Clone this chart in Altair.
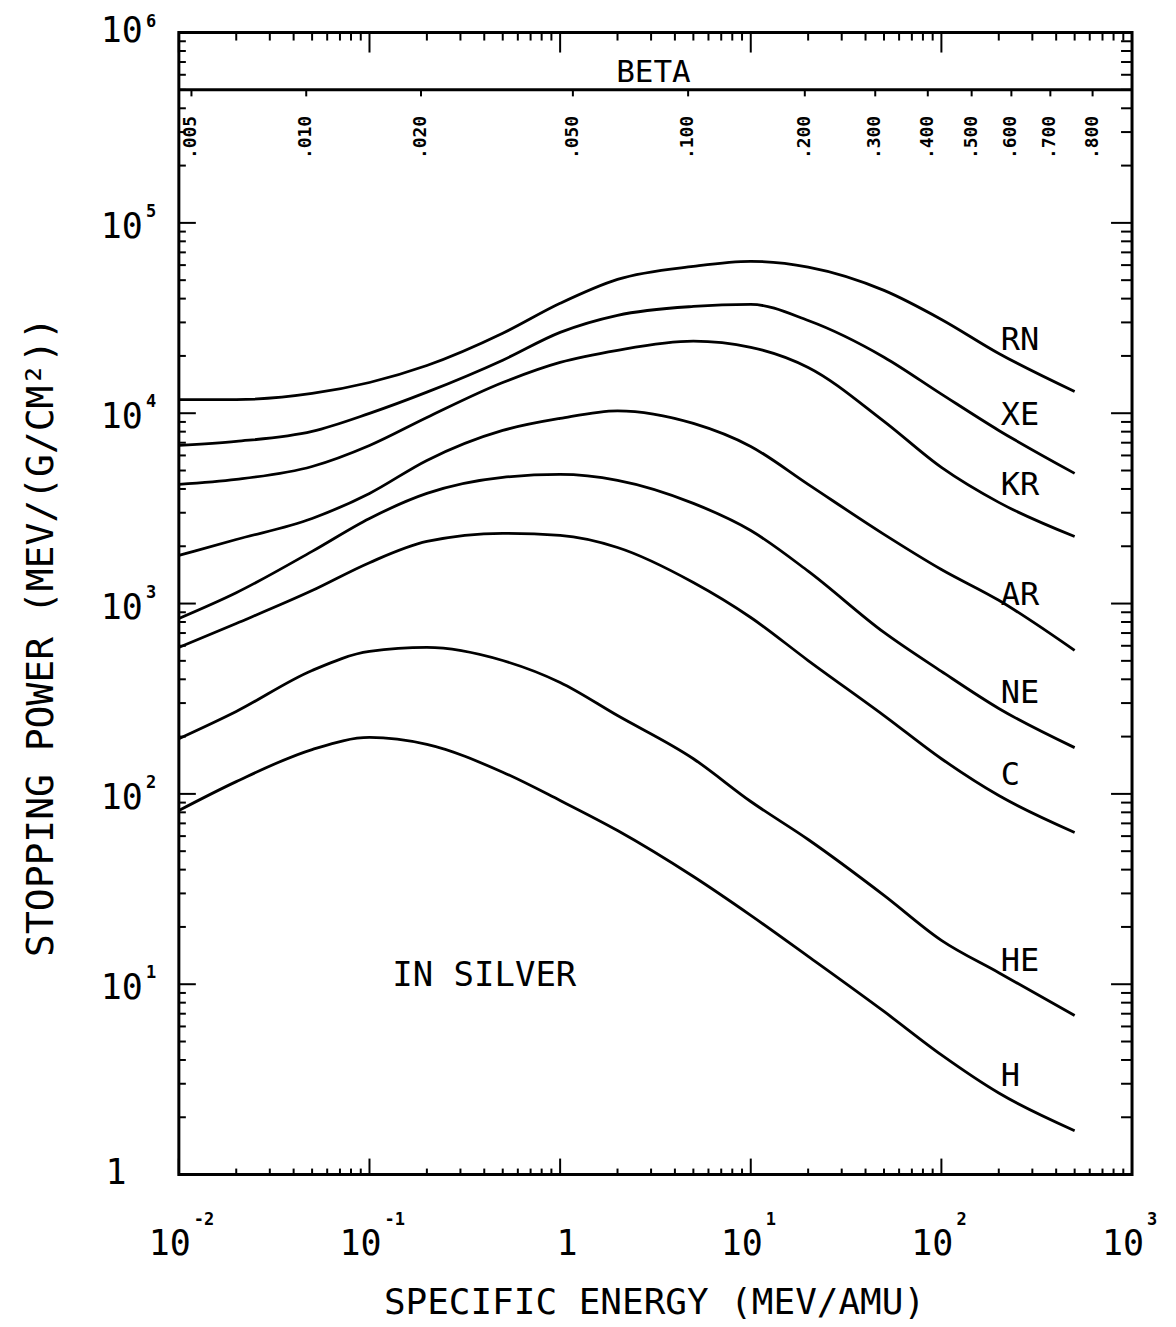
import math
import altair as alt
import pandas as pd

# ---------------- data ----------------
ENERGY = [0.01, 0.02, 0.05, 0.1, 0.2, 0.5, 1, 2, 5, 10, 20, 50, 100, 200, 500]  # MeV/amu

RN = [11800, 11800, 12700, 14500, 17800, 26300, 37800, 50500, 59100, 62800, 58600, 44200, 31100, 20600, 13000]
XE = [6770, 7110, 8020, 9980, 12900, 19000, 26600, 32700, 36400, 37300, 30700, 19700, 12600, 8120, 4830]
KR = [4230, 4490, 5250, 6770, 9500, 14500, 18500, 21400, 23900, 22200, 17400, 9060, 5190, 3400, 2250]
AR = [1790, 2170, 2800, 3790, 5650, 8120, 9390, 10300, 8840, 6690, 4230, 2310, 1510, 1040, 567]
NE = [835, 1140, 1880, 2800, 3790, 4600, 4770, 4440, 3360, 2420, 1480, 705, 440, 281, 175]
C_ = [588, 786, 1170, 1640, 2120, 2340, 2280, 1970, 1290, 845, 502, 258, 153, 98, 62.7]
HE = [195, 271, 445, 560, 588, 502, 385, 258, 153, 91.2, 57.6, 29.3, 17.0, 11.5, 6.85]
H_ = [81.8, 116, 171, 198, 182, 130, 92.3, 64.2, 36.8, 23.0, 14.0, 7.19, 4.25, 2.68, 1.70]

IONS = ["RN", "XE", "KR", "AR", "NE", "C", "HE", "H"]
SERIES = [RN, XE, KR, AR, NE, C_, HE, H_]

# curve labels (name, stopping power at label centre)
LABEL_ENERGY = 205
LABEL_VALUE = [24150, 9730, 4175, 1103, 337, 125, 13.3, 3.31]

# beta scale on top
BETA = [0.005, 0.010, 0.020, 0.050, 0.100, 0.200, 0.300, 0.400, 0.500, 0.600, 0.700, 0.800]
BETA_TEXT = [".005", ".010", ".020", ".050", ".100", ".200", ".300", ".400", ".500", ".600", ".700", ".800"]
AMU_MEV = 931.494

X_TICK_LABELS = [0.01, 0.1, 10, 100, 1000]
X_TICK_EXP = ["-2", "-1", "1", "2", "3"]
Y_TICK_LABELS = [10, 100, 1000, 1e4, 1e5]
Y_TICK_EXP = ["1", "2", "3", "4", "5"]

# ---------------- layout ----------------
W, H = 954, 1143
FONT = "DejaVu Sans Mono"
BAND_Y = 5.0e5
BAND_TICK_END = 4.62e5
LBL = 35     # tick label size
EXP = 17     # exponent size

xs = alt.Scale(type="log", domain=[0.01, 1000], nice=False)
ys = alt.Scale(type="log", domain=[1, 1e6], nice=False)


def beta_to_energy(b):
    return AMU_MEV * (1.0 / math.sqrt(1.0 - b * b) - 1.0)


rows = [{"ion": ion, "E": e, "S": s}
        for ion, vals in zip(IONS, SERIES) for e, s in zip(ENERGY, vals)]
df_lines = pd.DataFrame(rows)

lines = alt.Chart(df_lines).mark_line(color="black", strokeWidth=2.8, interpolate="monotone").encode(
    x=alt.X("E:Q", scale=xs, axis=None),
    y=alt.Y("S:Q", scale=ys, axis=None),
    detail="ion:N",
)

# ticks (all pointing inwards)
x_major = pd.DataFrame({"v": [10.0 ** k for k in range(-2, 4)]})
x_minor = pd.DataFrame({"v": [m * 10.0 ** k for k in range(-2, 3) for m in range(2, 10)]})
y_major = pd.DataFrame({"v": [10.0 ** k for k in range(0, 7)]})
y_minor = pd.DataFrame({"v": [m * 10.0 ** k for k in range(0, 6) for m in range(2, 10)]})


def xticks(d, y0, y1):
    return alt.Chart(d).mark_rule(color="black", strokeWidth=2).encode(
        x=alt.X("v:Q", scale=xs, axis=None), y=alt.value(y0), y2=alt.value(y1))


def yticks(d, x0, x1):
    return alt.Chart(d).mark_rule(color="black", strokeWidth=2).encode(
        y=alt.Y("v:Q", scale=ys, axis=None), x=alt.value(x0), x2=alt.value(x1))


tick_layers = [
    xticks(x_major, H, H - 16), xticks(x_minor, H, H - 6),
    xticks(x_major, 0, 20), xticks(x_minor, 0, 8),
    yticks(y_major, 0, 17), yticks(y_minor, 0, 7),
    yticks(y_major, W, W - 21), yticks(y_minor, W, W - 11),
]

band = alt.Chart(pd.DataFrame({"v": [BAND_Y]})).mark_rule(color="black", strokeWidth=3).encode(
    y=alt.Y("v:Q", scale=ys, axis=None), x=alt.value(0), x2=alt.value(W))

df_beta = pd.DataFrame({"E": [beta_to_energy(b) for b in BETA], "t": BETA_TEXT,
                        "y0": BAND_Y, "y1": BAND_TICK_END})
beta_ticks = alt.Chart(df_beta).mark_rule(color="black", strokeWidth=2).encode(
    x=alt.X("E:Q", scale=xs, axis=None),
    y=alt.Y("y0:Q", scale=ys, axis=None), y2="y1:Q")
beta_text = alt.Chart(df_beta).mark_text(font=FONT, fontSize=18, fontWeight="bold", angle=270,
                                         align="center", baseline="middle").encode(
    x=alt.X("E:Q", scale=xs, axis=None), y=alt.value(105), text="t:N")

beta_title = alt.Chart(pd.DataFrame({"t": ["BETA"]})).mark_text(
    font=FONT, fontSize=31, align="center", baseline="middle").encode(
    x=alt.value(475), y=alt.value(40), text="t:N")

# tick labels
df_xl = pd.DataFrame({"v": X_TICK_LABELS, "e": X_TICK_EXP})
x_base = alt.Chart(df_xl).mark_text(font=FONT, fontSize=LBL, align="right", baseline="middle", dx=12).encode(
    x=alt.X("v:Q", scale=xs, axis=None), y=alt.value(H + 70), text=alt.value("10"))
x_exp = alt.Chart(df_xl).mark_text(font=FONT, fontSize=EXP, fontWeight="bold", align="left",
                                   baseline="middle", dx=15).encode(
    x=alt.X("v:Q", scale=xs, axis=None), y=alt.value(H + 45), text="e:N")
x_one = alt.Chart(pd.DataFrame({"v": [1.0]})).mark_text(font=FONT, fontSize=LBL, align="center",
                                                       baseline="middle", dx=7).encode(
    x=alt.X("v:Q", scale=xs, axis=None), y=alt.value(H + 70), text=alt.value("1"))

df_yl = pd.DataFrame({"v": Y_TICK_LABELS, "e": Y_TICK_EXP})
y_base = alt.Chart(df_yl).mark_text(font=FONT, fontSize=LBL, align="right", baseline="middle", dy=4).encode(
    y=alt.Y("v:Q", scale=ys, axis=None), x=alt.value(-36), text=alt.value("10"))
y_exp = alt.Chart(df_yl).mark_text(font=FONT, fontSize=EXP, fontWeight="bold", align="left",
                                   baseline="middle", dy=-11).encode(
    y=alt.Y("v:Q", scale=ys, axis=None), x=alt.value(-33), text="e:N")
df_top = pd.DataFrame({"v": [1e6], "e": ["6"]})
y_top_base = alt.Chart(df_top).mark_text(font=FONT, fontSize=LBL, align="right", baseline="middle", dy=-2).encode(
    y=alt.Y("v:Q", scale=ys, axis=None), x=alt.value(-36), text=alt.value("10"))
y_top_exp = alt.Chart(df_top).mark_text(font=FONT, fontSize=EXP, fontWeight="bold", align="left",
                                        baseline="middle", dy=-11).encode(
    y=alt.Y("v:Q", scale=ys, axis=None), x=alt.value(-33), text="e:N")
y_one = alt.Chart(pd.DataFrame({"v": [1.0]})).mark_text(font=FONT, fontSize=LBL, align="center",
                                                       baseline="middle", dy=-2).encode(
    y=alt.Y("v:Q", scale=ys, axis=None), x=alt.value(-63), text=alt.value("1"))

# titles
x_title = alt.Chart(pd.DataFrame({"t": ["SPECIFIC ENERGY (MEV/AMU)"]})).mark_text(
    font=FONT, fontSize=36, align="center", baseline="middle").encode(
    x=alt.value(476), y=alt.value(1272), text="t:N")
y_title = alt.Chart(pd.DataFrame({"t": ["STOPPING POWER (MEV/(G/CM²))"]})).mark_text(
    font=FONT, fontSize=38, align="center", baseline="middle", angle=270).encode(
    x=alt.value(-137), y=alt.value(605), text="t:N")

# annotations
in_silver = alt.Chart(pd.DataFrame({"E": [0.40], "S": [11.0], "t": ["IN SILVER"]})).mark_text(
    font=FONT, fontSize=34, align="center", baseline="middle").encode(
    x=alt.X("E:Q", scale=xs, axis=None), y=alt.Y("S:Q", scale=ys, axis=None), text="t:N")

df_lab = pd.DataFrame({"E": [LABEL_ENERGY] * len(IONS), "S": LABEL_VALUE, "t": IONS})
curve_labels = alt.Chart(df_lab).mark_text(font=FONT, fontSize=32, align="left", baseline="middle").encode(
    x=alt.X("E:Q", scale=xs, axis=None), y=alt.Y("S:Q", scale=ys, axis=None), text="t:N")

chart = alt.layer(
    lines, band, beta_ticks, beta_text, beta_title, *tick_layers,
    x_base, x_exp, x_one, y_base, y_exp, y_top_base, y_top_exp, y_one,
    x_title, y_title, in_silver, curve_labels,
).properties(
    width=W, height=H,
    padding={"left": 171, "top": 24, "right": 36, "bottom": 150},
    autosize=alt.AutoSizeParams(type="none"),
    background="white",
).configure_view(stroke="black", strokeWidth=3)

chart.save("out.html", embed_options={"renderer": "svg", "actions": False})
